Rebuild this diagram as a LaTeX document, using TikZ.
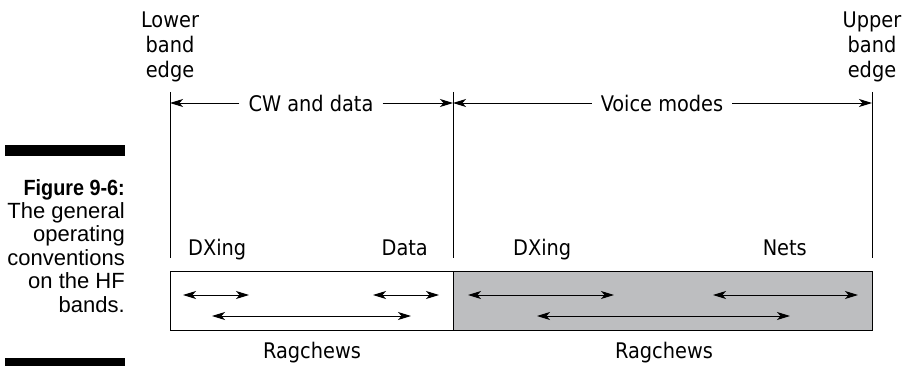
\documentclass[tikz,border=0pt]{standalone}
\usepackage{fontspec}
\setmainfont{DejaVu Sans Condensed}
\newfontfamily\capfont{Liberation Sans}[BoldFeatures={FakeStretch=0.9}]
\usetikzlibrary{
  arrows.meta,
}
\definecolor{bandgray}{RGB}{189,190,192}

\begin{document}
\begin{tikzpicture}[
  x=1pt, y=-1pt,
  font=\fontsize{21.5}{25}\selectfont,
  every node/.style={inner sep=0pt},
  edgeline/.style={line width=1pt},
  dimarrow/.style={line width=0.9pt, -{Stealth[length=13pt, width=8pt, inset=3.5pt]}},
  twoway/.style={line width=0.9pt, {Stealth[length=13pt, width=8pt, inset=3.5pt]}-{Stealth[length=13pt, width=8pt, inset=3.5pt]}},
]
\useasboundingbox (0,0) rectangle (903,366);
% band edges
\coordinate (lower) at (170,92);
\coordinate (split) at (453,92);
\coordinate (upper) at (872,92);
\foreach \e in {lower,split,upper}
  \draw[edgeline] (\e) -- ++(0,166);
\node[align=center, anchor=north] (lowerlbl) at (170,12) {Lower\\band\\edge};
\node[align=center, anchor=north] (upperlbl) at (872,12) {Upper\\band\\edge};
% mode ranges
\node (cw) at (311,103) {CW and data};
\node (voice) at (662,103) {Voice modes};
\draw[dimarrow] ([xshift=-9pt]cw.west) -- (lower |- cw);
\draw[dimarrow] ([xshift=9pt]cw.east) -- (split |- cw);
\draw[dimarrow] ([xshift=-9pt]voice.west) -- (split |- voice);
\draw[dimarrow] ([xshift=9pt]voice.east) -- (upper |- voice);
% the band
\draw[edgeline] (170,272) rectangle (453,331);
\draw[edgeline, fill=bandgray] (453,272) rectangle (872,331);
\node[anchor=base west] (dx1) at (188,256) {DXing};
\node[anchor=base east] (data) at (428,256) {Data};
\node[anchor=base west] (dx2) at (513,256) {DXing};
\node[anchor=base east] (nets) at (807,256) {Nets};
\node[anchor=base] (rag1) at (312,358) {Ragchews};
\node[anchor=base] (rag2) at (664,358) {Ragchews};
\foreach \n/\a/\b/\y in {a/183/249/295, b/373/439/295, c/212/411/316,
                         d/468/614/295, e/713/858/295, f/537/790/316} {
  \coordinate (\n-l) at (\a,\y);
  \coordinate (\n-r) at (\b,\y);
  \draw[twoway] (\n-l) -- (\n-r);
}
% caption
\fill (5,145) rectangle (125,156);
\fill (5,358) rectangle (125,366);
\node[align=right, anchor=north east, font=\capfont\fontsize{22}{23.4}\selectfont] (caption) at (125,179)
  {\textbf{Figure 9-6:}\\The general\\operating\\conventions\\on the HF\\bands.};
\end{tikzpicture}
\end{document}
